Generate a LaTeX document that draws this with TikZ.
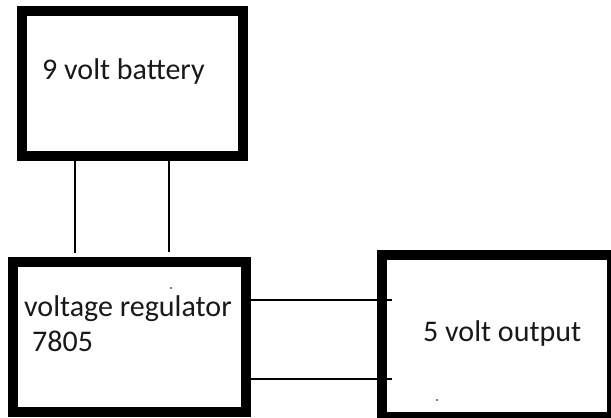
\documentclass[tikz,border=0pt]{standalone}
\usepackage{fontspec}
\setmainfont{Carlito}
\usetikzlibrary{positioning}

\begin{document}
\begin{tikzpicture}[x=1pt, y=1pt]
        \tikzstyle{block}=[draw, line width=10pt, inner sep=0pt, outer sep=0pt]
        \tikzstyle{caption}=[anchor=base west, inner sep=0pt, text=black!90, font=\fontsize{30}{36}\selectfont]
        \tikzstyle{wire}=[line width=1.3pt]
        \useasboundingbox (0,0) rectangle (611,418);
        \clip (0,0) rectangle (611,418);
        \node [block, minimum width=221.5, minimum height=145] (battery) at (132.25,334) {};
        \node [block, minimum width=233, minimum height=149.5] (regulator) at (129,80.75) {};
        \node [block, minimum width=230, minimum height=161.5] (output) at (497,81.75) {};
        \node [caption] (batterytext) at (42,338) {9 volt battery};
        \node [caption] (regtext) at (24,101) {voltage regulator};
        \node [caption] (regnum) at (32,66) {7805};
        \node [caption] (outtext) at (423,76) {5 volt output};
        \draw [wire] ([xshift=53.5]battery.south west) -- ([xshift=62.5, yshift=9.5]regulator.north west);
        \draw [wire] ([xshift=147.5]battery.south west) -- ([xshift=156.5, yshift=10.5]regulator.north west);
        \draw [wire] ([yshift=-37.5]regulator.north east) -- ([xshift=10, yshift=-44.5]output.north west);
        \draw [wire] ([yshift=-116.5]regulator.north east) -- ([xshift=10, yshift=-123.5]output.north west);
        \fill ([xshift=158.5, yshift=-25.5]regulator.north west) circle (0.8);
        \fill ([xshift=55, yshift=-144.5]output.north west) circle (0.8);
    \end{tikzpicture}
\end{document}
